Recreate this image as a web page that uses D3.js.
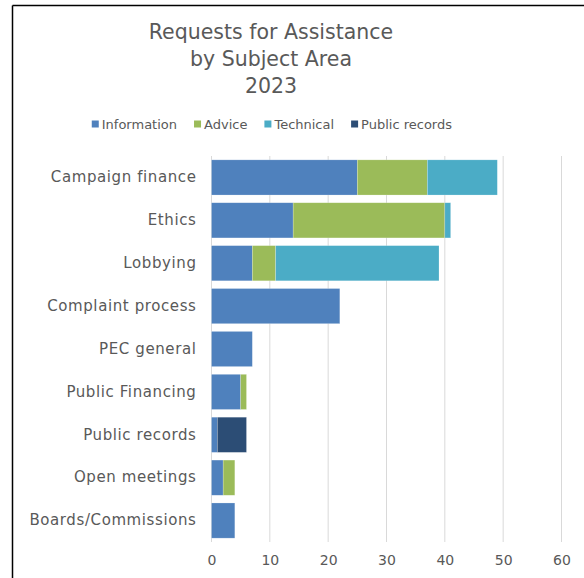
<!DOCTYPE html>
<html lang="en">
<head>
<meta charset="UTF-8">
<title>Requests for Assistance by Subject Area 2023</title>
<script src="https://d3js.org/d3.v7.min.js"></script>
<style>
    body { margin: 0; background: white; }
    svg { display: block; font-family: "DejaVu Sans", sans-serif; }
</style>
</head>
<body>
<svg width="584" height="578"></svg>
<script>
    var categories = ["Campaign finance", "Ethics", "Lobbying", "Complaint process", "PEC general",
        "Public Financing", "Public records", "Open meetings", "Boards/Commissions"];
    var seriesNames = ["Information", "Advice", "Technical", "Public records"];
    var information = [25, 14, 7, 22, 7, 5, 1, 2, 4];
    var advice = [12, 26, 4, 0, 0, 1, 0, 2, 0];
    var technical = [12, 1, 28, 0, 0, 0, 0, 0, 0];
    var publicRecords = [0, 0, 0, 0, 0, 0, 5, 0, 0];
    var xTicks = [0, 10, 20, 30, 40, 50, 60];
    var titleLines = ["Requests for Assistance", "by Subject Area", "2023"];

    var colors = ["#4f81bd", "#9bbb59", "#4bacc6", "#2c4d75"];
    var textColor = "#595959";

    var svg = d3.select("svg");

    // frame (only top and left edges show in the crop)
    svg.append("line").attr("x1", 12.5).attr("y1", 5.5).attr("x2", 584).attr("y2", 5.5)
        .attr("stroke", "#000").attr("stroke-width", 1.5);
    svg.append("line").attr("x1", 12.5).attr("y1", 5.5).attr("x2", 12.5).attr("y2", 578)
        .attr("stroke", "#000").attr("stroke-width", 1.5);

    // title
    svg.append("text")
        .attr("x", 271).attr("y", 39)
        .attr("text-anchor", "middle")
        .attr("fill", textColor)
        .attr("font-size", "20.5px")
        .attr("font-weight", 500)
        .selectAll("tspan").data(titleLines).enter().append("tspan")
        .attr("x", 271)
        .attr("dy", function(d, i) { return i === 0 ? 0 : 27; })
        .text(function(d) { return d; });

    // stacked data
    var rows = categories.map(function(c, i) {
        return { cat: c, Information: information[i], Advice: advice[i],
            Technical: technical[i], "Public records": publicRecords[i] };
    });
    var stacked = d3.stack().keys(seriesNames)(rows);

    var plotLeft = 211.5, plotRight = 561.5, plotTop = 156, plotBottom = 542;
    var x = d3.scaleLinear().domain([0, 60]).range([plotLeft, plotRight]);
    var y = d3.scaleBand().domain(categories).range([plotTop, plotBottom]).paddingInner(0.18).paddingOuter(0.09);

    // gridlines
    svg.append("g").selectAll("line").data(xTicks).enter().append("line")
        .attr("x1", function(d) { return x(d); })
        .attr("x2", function(d) { return x(d); })
        .attr("y1", plotTop).attr("y2", plotBottom)
        .attr("stroke", "#d9d9d9").attr("stroke-width", 1);

    // bars
    svg.append("g").selectAll("g").data(stacked).enter().append("g")
        .attr("fill", function(d, i) { return colors[i]; })
        .selectAll("rect").data(function(d) { return d; }).enter().append("rect")
        .attr("x", function(d) { return x(d[0]); })
        .attr("y", function(d) { return y(d.data.cat); })
        .attr("width", function(d) { return x(d[1]) - x(d[0]); })
        .attr("height", y.bandwidth())
        .attr("stroke", "rgba(255,255,255,0.35)")
        .attr("stroke-width", 0.6);

    // x axis
    var xAxis = svg.append("g")
        .attr("transform", "translate(0," + plotBottom + ")")
        .call(d3.axisBottom(x).tickValues(xTicks).tickSize(0).tickPadding(13));
    xAxis.select(".domain").remove();
    xAxis.selectAll("text").attr("fill", textColor).attr("font-size", "14px")
        .attr("font-family", "DejaVu Sans, sans-serif");

    // y axis
    var yAxis = svg.append("g")
        .attr("transform", "translate(" + plotLeft + ",0)")
        .call(d3.axisLeft(y).tickSize(0).tickPadding(15));
    yAxis.select(".domain").remove();
    yAxis.selectAll("text").attr("fill", textColor).attr("font-size", "15px")
        .attr("letter-spacing", "0.6px")
        .attr("font-family", "DejaVu Sans, sans-serif");

    // legend
    var legend = svg.append("g").attr("transform", "translate(0,124)");
    var items = legend.selectAll("g").data(seriesNames).enter().append("g");
    items.append("rect")
        .attr("width", 7).attr("height", 7).attr("y", -3.5)
        .attr("fill", function(d, i) { return colors[i]; });
    items.append("text")
        .attr("x", 10).attr("dy", "0.35em")
        .attr("font-size", "13px")
        .attr("fill", textColor)
        .text(function(d) { return d; });
    var widths = [];
    items.each(function() { widths.push(this.getBBox().width); });
    var gap = 17;
    var total = d3.sum(widths) + gap * (widths.length - 1);
    var pos = 272 - total / 2;
    items.attr("transform", function(d, i) {
        var p = pos;
        pos += widths[i] + gap;
        return "translate(" + p + ",0)";
    });
</script>
</body>
</html>
